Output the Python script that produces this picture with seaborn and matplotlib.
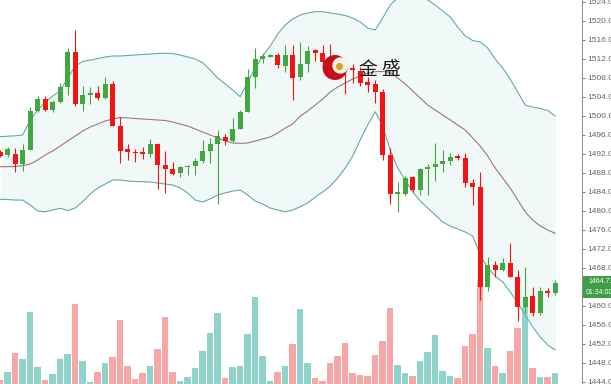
import numpy as np
import matplotlib
matplotlib.use("Agg")
import matplotlib.pyplot as plt
import seaborn as sns
from matplotlib.patches import Ellipse, Rectangle

# ---------------- data ----------------
opens = [1492.36, 1491.73, 1491.94, 1489.83, 1492.78, 1501.05, 1503.52, 1501.20, 1502.95, 1506.11,
         1513.48, 1502.47, 1504.36, 1504.84, 1503.67, 1506.68, 1497.83, 1492.93, 1492.42, 1492.30,
         1491.94, 1494.04, 1489.56, 1488.84, 1487.88, 1489.14, 1489.41, 1490.53, 1492.63, 1494.04,
         1495.58, 1494.74, 1497.14, 1500.84, 1508.21, 1511.88, 1512.42, 1512.78, 1510.47, 1512.68,
         1508.09, 1510.89, 1513.83, 1513.27, 1512.15, 1511.10, 1510.25, 1510.04, 1509.48, 1507.03,
         1506.68, 1505.05, 1491.73, 1483.62, 1483.52, 1487.03, 1484.36, 1488.72, 1489.14, 1489.83,
         1490.47, 1491.52, 1491.03, 1485.90, 1484.93, 1463.88, 1468.57, 1467.52, 1469.05, 1466.11,
         1459.83, 1462.04, 1458.40, 1463.16, 1462.74]
closes = [1491.62, 1492.93, 1489.83, 1492.78, 1501.05, 1503.52, 1501.20, 1502.95, 1506.11, 1513.48,
          1502.47, 1504.36, 1504.84, 1503.67, 1506.68, 1497.83, 1492.63, 1492.42, 1492.09, 1491.94,
          1494.04, 1489.56, 1488.84, 1487.73, 1489.14, 1489.41, 1490.53, 1492.63, 1494.04, 1495.73,
          1494.68, 1497.14, 1500.84, 1508.21, 1511.88, 1512.57, 1512.78, 1510.68, 1512.78, 1507.88,
          1510.89, 1513.69, 1513.27, 1511.37, 1510.89, 1510.36, 1509.62, 1509.52, 1506.95, 1506.57,
          1504.99, 1491.73, 1483.52, 1483.94, 1486.95, 1484.36, 1488.78, 1489.14, 1489.83, 1490.47,
          1491.24, 1491.16, 1485.90, 1484.93, 1463.94, 1468.57, 1467.52, 1468.93, 1466.11, 1459.83,
          1461.94, 1458.40, 1463.10, 1462.74, 1464.71]
highs = [1492.78, 1493.48, 1493.14, 1494.04, 1501.77, 1504.15, 1504.15, 1503.31, 1506.82, 1514.19,
         1517.98, 1506.15, 1505.94, 1506.25, 1508.15, 1507.37, 1499.73, 1494.04, 1492.93, 1493.48,
         1495.03, 1494.32, 1492.57, 1490.32, 1489.41, 1489.62, 1491.03, 1494.89, 1495.24, 1496.99,
         1496.15, 1499.45, 1501.20, 1509.77, 1514.19, 1513.27, 1512.99, 1513.14, 1514.89, 1514.89,
         1515.52, 1514.68, 1513.94, 1514.89, 1515.10, 1512.36, 1511.52, 1510.89, 1510.32, 1508.21,
         1507.52, 1505.52, 1493.20, 1486.04, 1487.41, 1487.31, 1488.93, 1489.83, 1494.19, 1492.78,
         1492.09, 1491.94, 1492.21, 1486.61, 1488.15, 1470.25, 1469.41, 1469.98, 1473.14, 1467.52,
         1468.25, 1463.94, 1464.04, 1463.73, 1465.41]
lows = [1491.31, 1491.37, 1488.21, 1488.42, 1492.68, 1500.84, 1501.05, 1500.84, 1502.74, 1504.36,
        1501.94, 1500.89, 1502.47, 1503.31, 1503.62, 1497.73, 1490.11, 1490.68, 1490.32, 1490.82,
        1491.37, 1484.51, 1483.73, 1487.52, 1487.16, 1487.52, 1487.52, 1490.04, 1489.98, 1481.31,
        1493.83, 1494.53, 1497.10, 1500.84, 1505.77, 1511.03, 1512.36, 1509.98, 1509.27, 1503.41,
        1507.52, 1509.20, 1511.52, 1510.68, 1509.62, 1508.36, 1504.57, 1506.89, 1506.25, 1504.89,
        1502.78, 1490.68, 1481.31, 1479.83, 1483.10, 1484.00, 1483.31, 1483.31, 1486.32, 1488.21,
        1489.62, 1490.68, 1485.05, 1481.20, 1461.20, 1463.10, 1466.11, 1467.31, 1465.98, 1456.78,
        1458.40, 1457.94, 1458.04, 1461.83, 1462.25]
volume = [400, 1170, 3070, 2500, 7170, 1730, 400, 1000, 2470, 3000,
          8000, 2300, 230, 1170, 2100, 2730, 6400, 1800, 470, 1070,
          1800, 3470, 6670, 1230, 270, 670, 1570, 3300, 5130, 7130,
          630, 1730, 1800, 4970, 8670, 2800, 300, 1230, 1800, 3970,
          7500, 2070, 630, 330, 2070, 2800, 4070, 1130, 900, 830,
          2900, 4300, 7630, 1900, 1070, 800, 2300, 3200, 4930, 1300,
          800, 630, 3830, 4970, 10400, 3570, 1800, 1070, 3330, 5570,
          7730, 1630, 730, 670, 1070]
bb_upper = [1495.58, 1495.69, 1495.77, 1495.94, 1499.10, 1501.20, 1502.89, 1504.15, 1505.20, 1507.94,
            1510.47, 1511.41, 1511.73, 1512.04, 1512.36, 1512.57, 1512.57, 1512.68, 1512.78, 1512.89,
            1512.99, 1513.10, 1513.14, 1513.10, 1512.78, 1512.36, 1511.94, 1511.16, 1509.62, 1507.94,
            1506.68, 1505.41, 1504.00, 1507.10, 1510.04, 1512.57, 1514.68, 1517.20, 1519.10, 1520.36,
            1521.20, 1521.62, 1521.90, 1521.90, 1521.62, 1521.41, 1521.10, 1520.57, 1519.73, 1518.47,
            1518.04, 1520.57, 1523.31, 1524.78, 1525.62, 1526.04, 1525.41, 1524.36, 1523.31, 1522.04,
            1520.78, 1518.68, 1516.78, 1515.83, 1515.52, 1514.25, 1511.94, 1510.04, 1507.73, 1504.99,
            1502.25, 1501.83, 1501.52, 1501.10, 1499.94]
bb_mid = [1489.27, 1489.27, 1489.31, 1489.52, 1489.83, 1490.68, 1491.73, 1492.57, 1493.62, 1494.68,
          1495.73, 1496.78, 1497.62, 1498.25, 1498.89, 1499.31, 1499.62, 1499.52, 1499.41, 1499.31,
          1499.20, 1499.10, 1498.99, 1498.68, 1498.25, 1497.83, 1497.20, 1496.57, 1495.94, 1495.31,
          1494.68, 1494.25, 1494.19, 1494.25, 1494.68, 1495.10, 1495.52, 1496.36, 1497.41, 1498.25,
          1499.94, 1500.99, 1502.25, 1503.52, 1504.99, 1506.04, 1506.89, 1507.73, 1508.36, 1508.99,
          1509.27, 1509.31, 1509.10, 1507.94, 1506.68, 1505.20, 1503.73, 1502.25, 1501.20, 1500.15,
          1499.10, 1498.04, 1496.99, 1495.31, 1493.62, 1491.52, 1488.99, 1486.89, 1484.78, 1482.25,
          1479.73, 1478.04, 1476.78, 1475.94, 1475.24]
bb_lower = [1482.40, 1482.36, 1482.25, 1482.25, 1481.20, 1479.94, 1479.79, 1480.15, 1480.51, 1480.04,
            1480.57, 1481.90, 1483.52, 1484.78, 1485.62, 1486.47, 1486.47, 1486.25, 1486.15, 1486.11,
            1486.04, 1485.83, 1485.62, 1485.41, 1484.78, 1483.73, 1482.25, 1481.83, 1482.47, 1483.31,
            1483.73, 1484.15, 1484.36, 1483.31, 1482.04, 1481.41, 1480.57, 1480.15, 1479.79, 1480.15,
            1480.84, 1481.62, 1482.89, 1483.94, 1485.20, 1486.89, 1488.99, 1491.52, 1494.89, 1498.04,
            1500.84, 1497.83, 1492.78, 1488.99, 1486.47, 1483.94, 1482.04, 1480.57, 1479.10, 1477.62,
            1476.78, 1476.15, 1475.52, 1474.68, 1470.68, 1467.94, 1466.25, 1464.99, 1462.89, 1460.57,
            1458.04, 1455.52, 1453.41, 1451.73, 1450.68]
price_ticks = [1444, 1448, 1452, 1456, 1460, 1464, 1468, 1472, 1476, 1480, 1484,
               1488, 1492, 1496, 1500, 1504, 1508, 1512, 1516, 1520, 1524]
hidden_tick = 1464          # covered by the current-price box in the reference
last_price_label = "1464.71"
countdown_label = "01:34:00"
logo_text = "金 盛"

# ---------------- style ----------------
sns.set_style("white")
plt.rcParams['font.family'] = ['Liberation Sans', 'DejaVu Sans']

UP_C, DN_C = '#3fa83f', '#f51414'
UP_V, DN_V = '#8fd3cb', '#f7a7a7'
BAND_C, MID_C = '#63aaaa', '#a57474'

W, H = 611, 384
fig = plt.figure(figsize=(W / 100, H / 100), dpi=100)
fig.patch.set_facecolor('white')
rect = [0, 0, 582 / W, 1]
ax_vol = fig.add_axes(rect)
ax = ax_vol.twinx()

idx = np.arange(len(opens))
o = np.array(opens); c = np.array(closes)
h = np.array(highs); l = np.array(lows)
up = c >= o

# volume (bottom layer)
ax_vol.bar(idx, volume, width=0.86, color=np.where(up, UP_V, DN_V), linewidth=0, zorder=1)
ax_vol.set_ylim(0, 38400)
ax_vol.set_yticks([])
ax_vol.set_xticks([])
for s in ax_vol.spines.values():
    s.set_visible(False)

# Bollinger bands
ax.fill_between(idx, bb_lower, bb_upper, color=(205/255, 232/255, 232/255), alpha=0.28,
                linewidth=0, zorder=1)
sns.lineplot(x=idx, y=bb_upper, ax=ax, color=BAND_C, linewidth=0.8, zorder=2)
sns.lineplot(x=idx, y=bb_lower, ax=ax, color=BAND_C, linewidth=0.8, zorder=2)
sns.lineplot(x=idx, y=bb_mid, ax=ax, color=MID_C, linewidth=0.8, zorder=2)

# candles
cols = np.where(up, UP_C, DN_C)
ax.vlines(idx, l, h, colors=cols, linewidth=0.8, zorder=3)
body_low = np.minimum(o, c)
body_h = np.maximum(np.abs(c - o), 0.28)
ax.bar(idx, body_h, bottom=body_low, width=0.68, color=cols, linewidth=0, zorder=4)

ax.set_xlim(-0.027, 77.57)
ax.set_ylim(1443.52, 1524.36)
ax.set_yticks(price_ticks)
ax.set_yticklabels(["" if t == hidden_tick else f"{t:.2f}" for t in price_ticks])
ax.set_ylabel("")
ax.set_xticks([])
ax.tick_params(axis='y', direction='out', length=2.5, width=0.6, pad=1.0,
               labelsize=6.0, colors='#666666', right=True, left=False)
for name, s in ax.spines.items():
    s.set_visible(name == 'right')
ax.spines['right'].set_color('#8c8c8c')
ax.spines['right'].set_linewidth(0.7)

# current-price box on the axis
fig.add_artist(Rectangle((583 / W, 1 - 298 / H), 30 / W, 22 / H,
                         transform=fig.transFigure, color='#3e9f48', linewidth=0))
fig.text(588 / W, 1 - 281.5 / H, last_price_label, color='white', fontsize=5.0,
         va='center', ha='left')
fig.text(586 / W, 1 - 292 / H, countdown_label, color='white', fontsize=5.0,
         va='center', ha='left')

# watermark logo
def circ(cx, cy, r, color, z):
    fig.add_artist(Ellipse((cx / W, 1 - cy / H), 2 * r / W, 2 * r / H,
                           transform=fig.transFigure, color=color, linewidth=0, zorder=z))

circ(335, 67.5, 12.5, '#c41018', 5)
circ(340.5, 65.5, 8.2, '#f7f2e4', 6)
circ(339.5, 66.5, 3.6, '#d4a72c', 7)
fig.text(379.5 / W, 1 - 69 / H, logo_text, fontsize=13.5, ha='center', va='center',
         color='#1a1a1a', family=['Noto Sans CJK SC', 'DejaVu Sans'], zorder=8)

fig.savefig("out.png", dpi=100, facecolor='white')
